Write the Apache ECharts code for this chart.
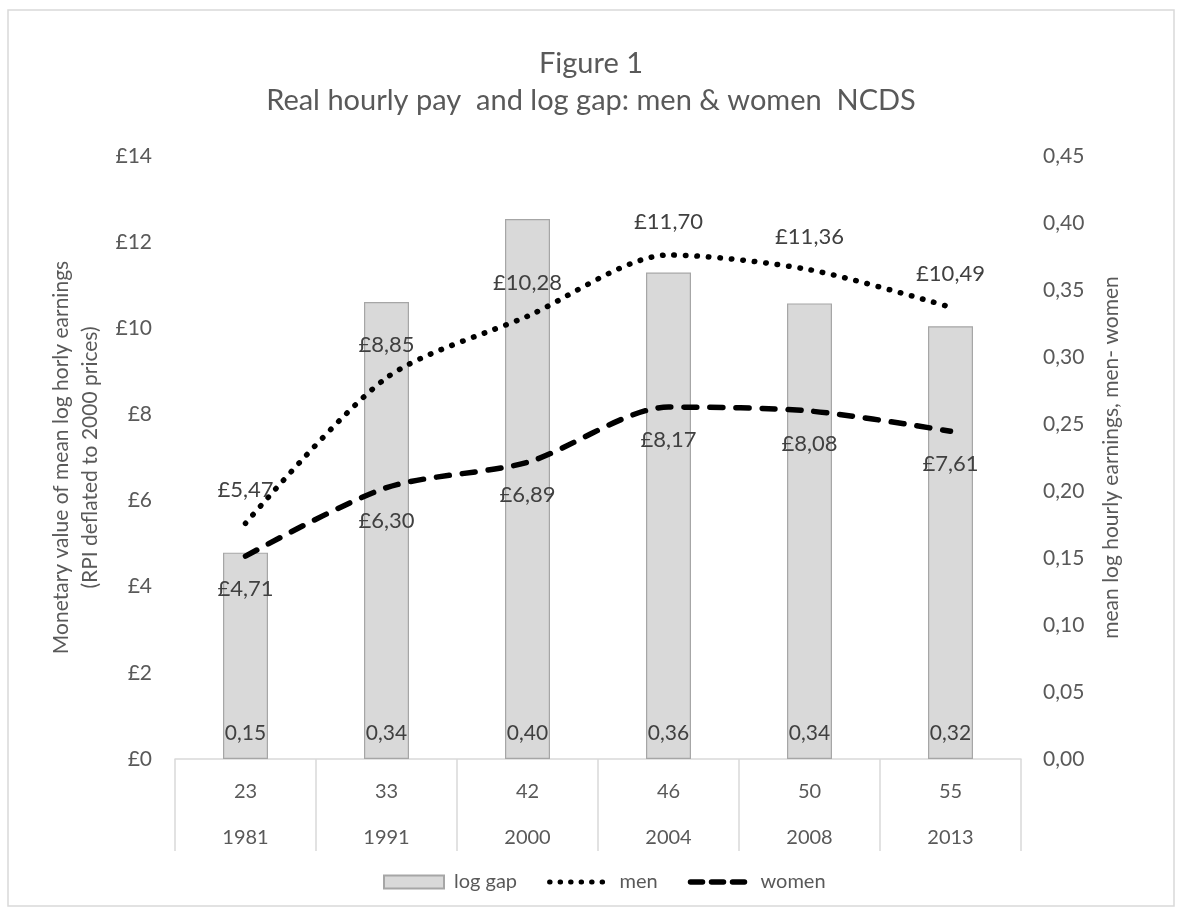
<!DOCTYPE html>
<html>
<head>
<meta charset="utf-8">
<script src="https://cdn.jsdelivr.net/npm/echarts@6/dist/echarts.min.js"></script>
<style>
html,body{margin:0;padding:0;background:#fff;}
#chart{width:1182px;height:915px;}
</style>
</head>
<body>
<div id="chart"></div>
<script>
const ages = ['23', '33', '42', '46', '50', '55'];
const years = ['1981', '1991', '2000', '2004', '2008', '2013'];
const logGap = [0.154, 0.341, 0.403, 0.363, 0.340, 0.323];
const men = [5.47, 8.85, 10.28, 11.70, 11.36, 10.49];
const women = [4.71, 6.30, 6.89, 8.17, 8.08, 7.61];
const leftTicks = {min: 0, max: 14, interval: 2};
const rightTicks = {min: 0, max: 0.45, interval: 0.05};

const FONT = "Lato, 'Noto Sans', sans-serif";
const categories = ages.map((a, i) => a + '|' + years[i]);
const comma = (v) => v.toFixed(2).replace('.', ',');
const hidden = 'rgba(0,0,0,0)';

const chart = echarts.init(document.getElementById('chart'));
chart.setOption({
  backgroundColor: '#fff',
  textStyle: {fontFamily: FONT},
  graphic: [{
    type: 'rect', silent: true, z: -1,
    shape: {x: 8, y: 10, width: 1166, height: 896},
    style: {fill: 'none', stroke: '#d9d9d9', lineWidth: 1.5}
  }],
  title: {
    text: 'Figure 1\nReal hourly pay  and log gap: men & women  NCDS',
    left: 'center', top: 40,
    textStyle: {fontFamily: FONT, fontSize: 29, fontWeight: 'normal', color: '#595959', lineHeight: 37}
  },
  legend: {
    bottom: 18, left: 378,
    itemWidth: 60, itemHeight: 13, itemGap: 30,
    textStyle: {fontFamily: FONT, fontSize: 20, color: '#595959', padding: [0, 0, 0, 5]},
    data: [
      {name: 'log gap', icon: 'rect'},
      {name: 'men', itemStyle: {color: hidden, borderColor: hidden}, lineStyle: {width: 5, type: [0.5, 10], cap: 'round'}},
      {name: 'women', itemStyle: {color: hidden, borderColor: hidden}, lineStyle: {width: 5.5, type: [12, 9], cap: 'round'}}
    ]
  },
  grid: {left: 175, right: 161, top: 156, bottom: 156},
  xAxis: {
    type: 'category',
    data: categories,
    axisLine: {lineStyle: {color: '#d9d9d9', width: 1.5}},
    axisTick: {show: true, interval: 0, length: 92, lineStyle: {color: '#d9d9d9', width: 1.5}},
    axisLabel: {
      interval: 0, margin: 10,
      formatter: (v) => { const p = v.split('|'); return '{a|' + p[0] + '}\n{a|' + p[1] + '}'; },
      rich: {a: {fontFamily: FONT, fontSize: 20, color: '#595959', lineHeight: 46}}
    }
  },
  yAxis: [{
    type: 'value', min: leftTicks.min, max: leftTicks.max, interval: leftTicks.interval,
    name: 'Monetary value of mean log horly earnings\n(RPI deflated to 2000 prices)',
    nameLocation: 'middle', nameRotate: 90, nameGap: 53,
    nameTextStyle: {fontFamily: FONT, fontSize: 21, color: '#595959', lineHeight: 29},
    axisLine: {show: false}, axisTick: {show: false}, splitLine: {show: false},
    axisLabel: {margin: 23, fontFamily: FONT, fontSize: 21, color: '#595959', formatter: (v) => '£' + v}
  }, {
    type: 'value', min: rightTicks.min, max: rightTicks.max, interval: rightTicks.interval,
    name: 'mean log hourly earnings, men- women',
    nameLocation: 'middle', nameRotate: 90, nameGap: 80,
    nameTextStyle: {fontFamily: FONT, fontSize: 21, color: '#595959'},
    axisLine: {show: false}, axisTick: {show: false}, splitLine: {show: false},
    axisLabel: {margin: 22, fontFamily: FONT, fontSize: 21, color: '#595959', formatter: (v) => comma(v)}
  }],
  series: [{
    name: 'log gap', type: 'bar', yAxisIndex: 1, data: logGap, barWidth: 45, z: 1,
    itemStyle: {color: '#d9d9d9', borderColor: '#a6a6a6', borderWidth: 1.2},
    label: {show: true, position: 'insideBottom', distance: 15, fontFamily: FONT, fontSize: 21, color: '#404040',
      formatter: (p) => comma(p.value)}
  }, {
    name: 'men', type: 'line', yAxisIndex: 0, data: men, smooth: 0.28,
    symbol: 'circle', symbolSize: 1, showSymbol: true, z: 3,
    lineStyle: {color: '#000', width: 5.5, type: [0.5, 11], cap: 'round'},
    itemStyle: {color: hidden, borderColor: hidden},
    label: {show: true, position: 'top', distance: 21, fontFamily: FONT, fontSize: 22, color: '#404040',
      formatter: (p) => '£' + comma(p.value)}
  }, {
    name: 'women', type: 'line', yAxisIndex: 0, data: women, smooth: 0.28,
    symbol: 'circle', symbolSize: 1, showSymbol: true, z: 3,
    lineStyle: {color: '#000', width: 5.5, type: [13, 13], cap: 'round'},
    itemStyle: {color: hidden, borderColor: hidden},
    label: {show: true, position: 'bottom', distance: 21, fontFamily: FONT, fontSize: 22, color: '#404040',
      formatter: (p) => '£' + comma(p.value)}
  }]
});
</script>
</body>
</html>
